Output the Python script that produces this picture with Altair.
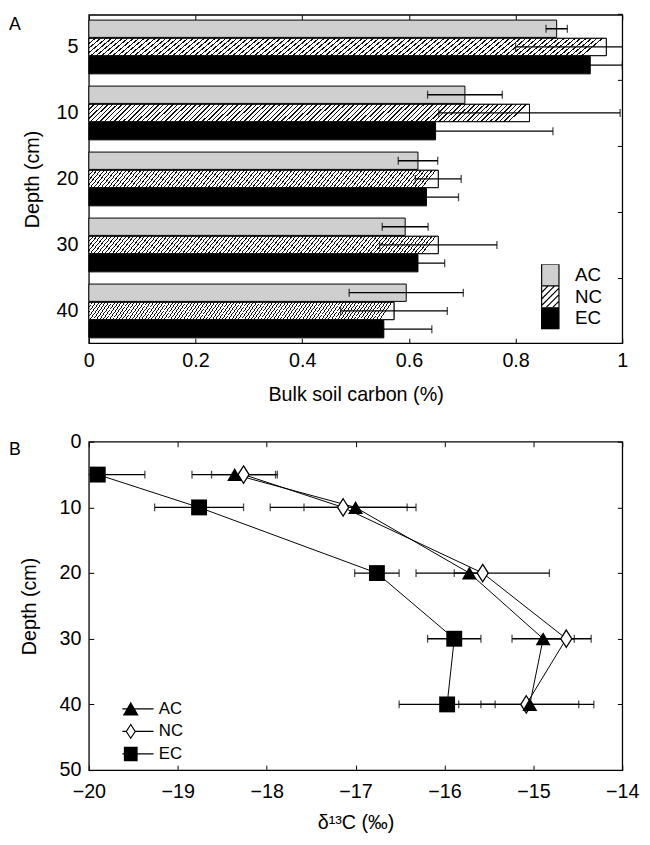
import altair as alt
import pandas as pd

# ---------------- data ----------------
depths = ["5", "10", "20", "30", "40"]
treatments = ["AC", "NC", "EC"]

# Panel A: bulk soil carbon (%)
ac_carbon = [0.877, 0.705, 0.617, 0.593, 0.595]
ac_carbon_err = [0.020, 0.070, 0.037, 0.043, 0.107]
nc_carbon = [0.970, 0.826, 0.655, 0.655, 0.572]
nc_carbon_err = [0.170, 0.170, 0.043, 0.110, 0.100]
ec_carbon = [0.940, 0.650, 0.633, 0.617, 0.553]
ec_carbon_err = [0.060, 0.220, 0.060, 0.050, 0.090]

# Panel B: delta 13C (permil)
depth_cm = [5, 10, 20, 30, 40]
ac_d13c = [-18.36, -17.00, -15.72, -14.89, -15.04]
ac_d13c_err = [0.48, 0.58, 0.17, 0.35, 0.55]
nc_d13c = [-18.26, -17.14, -15.57, -14.63, -15.08]
nc_d13c_err = [0.36, 0.82, 0.75, 0.28, 0.76]
ec_d13c = [-19.90, -18.76, -16.76, -15.89, -15.97]
ec_d13c_err = [0.53, 0.50, 0.25, 0.30, 0.54]

x_ticks_a = [0, 0.2, 0.4, 0.6, 0.8, 1]
x_ticks_b = [-20, -19, -18, -17, -16, -15, -14]
y_ticks_b = [0, 10, 20, 30, 40, 50]

# ---------------- tables ----------------
rows_a = []
for t, vals, errs in [("AC", ac_carbon, ac_carbon_err),
                      ("NC", nc_carbon, nc_carbon_err),
                      ("EC", ec_carbon, ec_carbon_err)]:
    for d, v, e in zip(depths, vals, errs):
        rows_a.append({"depth": d, "treatment": t, "carbon": v, "lo": v - e, "hi": v + e})
df_a = pd.DataFrame(rows_a)

rows_b = []
for t, vals, errs in [("AC", ac_d13c, ac_d13c_err),
                      ("NC", nc_d13c, nc_d13c_err),
                      ("EC", ec_d13c, ec_d13c_err)]:
    for d, v, e in zip(depth_cm, vals, errs):
        rows_b.append({"depth": d, "treatment": t, "d13c": v, "lo": v - e, "hi": v + e})
df_b = pd.DataFrame(rows_b)

legend_a = pd.DataFrame({"lg_a": treatments})
legend_b = pd.DataFrame({"lg_b": treatments})

FONT = "Liberation Sans"
NARROW = "Liberation Sans Narrow, Liberation Sans"
WA, HA = 541, 333
WB, HB = 541, 333

# hatch pattern as a striped gradient
n_str = 95
stops = []
for i in range(n_str):
    a = i / n_str
    b = (i + 0.3) / n_str
    c = (i + 1) / n_str
    stops += [{"offset": a, "color": "#111111"}, {"offset": b, "color": "#111111"},
              {"offset": b, "color": "#ffffff"}, {"offset": c, "color": "#ffffff"}]
HATCH = {"gradient": "linear", "x1": 0, "y1": 0, "x2": 1, "y2": 0.04, "stops": stops}

RECT = "M-0.8,-1H0.8V1H-0.8Z"
RECT_HATCH = ("M-0.8,-1H0.8V1H-0.8Z M-0.8,-0.4L-0.2,-1 M-0.8,0.2L0.4,-1 M-0.8,0.8L0.8,-0.8 "
              "M-0.4,1L0.8,-0.2 M0.2,1L0.8,0.4")
# legend symbols for panel B, drawn as filled outlines (line + marker)
LN = "M-3.3,-0.09H3.3V0.09H-3.3Z "
TRI_L = LN + "M0,-1.05L1.15,0.95H-1.15Z"
DIA_L = ("M-3.3,-0.09H-0.7V0.09H-3.3Z M0.7,-0.09H3.3V0.09H0.7Z "
         "M0,-1.15L0.75,0L0,1.15L-0.75,0Z M0,-0.86L-0.55,0L0,0.86L0.55,0Z")
SQR_L = LN + "M-1,-1.05H1V1.05H-1Z"
DIA = "M0,-1.1L0.7,0L0,1.1L-0.7,0Z"


def inward(orient, labels=True, title=None, values=None, fmt=None, band0=False,
           label_pad=8, title_pad=10, ticks=True):
    kw = dict(orient=orient, offset=-5, tickSize=5, tickWidth=1, tickColor="black",
              domain=False, labels=labels, grid=False, title=title, ticks=ticks,
              labelPadding=label_pad if labels else 0, titlePadding=title_pad,
              labelFlush=False)
    if values is not None:
        kw["values"] = values
    if fmt is not None:
        kw["format"] = fmt
    if band0:
        kw["bandPosition"] = 0
        kw["tickOffset"] = -6
    return alt.Axis(**kw)


# ---------------- Panel A ----------------
xa_scale = alt.Scale(domain=[0, 1], nice=False)
ya_scale = alt.Scale(domain=depths, paddingInner=0.185, paddingOuter=0.08)
yoff_scale = alt.Scale(domain=treatments, paddingInner=0.05)


def xa(field, axis):
    return alt.X(field + ":Q", scale=xa_scale, axis=axis, title="Bulk soil carbon (%)")


def ya(axis):
    return alt.Y("depth:N", scale=ya_scale, sort=depths, axis=axis, title="Depth (cm)")


yoff = alt.YOffset("treatment:N", scale=yoff_scale, sort=treatments)

base_a = alt.Chart(df_a)

bars = base_a.transform_calculate(
    fc="datum.treatment == 'AC' ? '#cfcfcf' : (datum.treatment == 'NC' ? '#ffffff' : '#000000')"
).mark_bar(stroke="black", strokeWidth=1).encode(
    x=xa("carbon", inward("bottom", title="Bulk soil carbon (%)", values=x_ticks_a, fmt="~g",
                          label_pad=8, title_pad=14)),
    y=ya(inward("left", title="Depth (cm)", ticks=False, label_pad=16, title_pad=14)),
    yOffset=yoff,
    fill=alt.Fill("fc:N", scale=None),
)

hatch = base_a.transform_filter(alt.datum.treatment == "NC").mark_bar(
    fill=HATCH, stroke="black", strokeWidth=1
).encode(x=xa("carbon", None), y=ya(None), yOffset=yoff)

err_a = base_a.mark_rule(color="black", strokeWidth=1.3, clip=True).encode(
    x=xa("lo", inward("top", labels=False, values=x_ticks_a)),
    x2="hi:Q",
    y=ya(inward("right", labels=False, band0=True)),
    yOffset=yoff,
)
cap_lo_a = base_a.mark_tick(color="black", size=8, thickness=1.3, clip=True).encode(
    x=xa("lo", None), y=ya(None), yOffset=yoff)
cap_hi_a = base_a.mark_tick(color="black", size=8, thickness=1.3, clip=True).encode(
    x=xa("hi", None), y=ya(None), yOffset=yoff)

leg_a_kw = dict(orient="none", legendX=456, legendY=253, title=None,
                symbolSize=484, symbolStrokeColor="black", symbolStrokeWidth=1.2,
                symbolOpacity=1, labelFontSize=19, labelFont=NARROW, labelOffset=13,
                rowPadding=0, padding=0, clipHeight=22)
leg_a = alt.Chart(legend_a).mark_point(opacity=0, filled=True, stroke="black", strokeWidth=1.2).encode(
    x=alt.value(0), y=alt.value(0),
    shape=alt.Shape("lg_a:N", scale=alt.Scale(domain=treatments, range=[RECT, RECT_HATCH, RECT]),
                    legend=alt.Legend(**leg_a_kw)),
    fill=alt.Fill("lg_a:N", scale=alt.Scale(domain=treatments, range=["#cfcfcf", "#ffffff", "#000000"]),
                  legend=alt.Legend(**leg_a_kw)),
)

lab_a = alt.Chart(pd.DataFrame({"t": ["A"]})).mark_text(
    align="left", baseline="top", fontSize=18, font=FONT, color="black"
).encode(x=alt.value(-81), y=alt.value(1), text="t:N")

panel_a = alt.layer(bars, hatch, err_a, cap_lo_a, cap_hi_a, leg_a, lab_a).resolve_axis(
    x="independent", y="independent"
).properties(width=WA, height=HA)

# ---------------- Panel B ----------------
xb_scale = alt.Scale(domain=[-20, -14], nice=False)
yb_scale = alt.Scale(domain=[0, 50], reverse=True, nice=False)
XB_TITLE = "δ¹³C (‰)"


def xb(field, axis):
    return alt.X(field + ":Q", scale=xb_scale, axis=axis, title=XB_TITLE)


def yb(axis):
    return alt.Y("depth:Q", scale=yb_scale, axis=axis, title="Depth (cm)")


base_b = alt.Chart(df_b)

lines = base_b.mark_line(color="black", strokeWidth=1).encode(
    x=xb("d13c", inward("bottom", title=XB_TITLE, values=x_ticks_b, fmt="d",
                        label_pad=12, title_pad=11)),
    y=yb(inward("left", title="Depth (cm)", values=y_ticks_b, label_pad=8, title_pad=20)),
    detail="treatment:N",
    order=alt.Order("depth:Q"),
)
err_b = base_b.mark_rule(color="black", strokeWidth=1.3, clip=True).encode(
    x=xb("lo", inward("top", labels=False, values=x_ticks_b)),
    x2="hi:Q",
    y=yb(inward("right", labels=False, values=y_ticks_b)),
)
cap_lo_b = base_b.mark_tick(color="black", orient="vertical", size=8, thickness=1.3, clip=True).encode(
    x=xb("lo", None), y=yb(None))
cap_hi_b = base_b.mark_tick(color="black", orient="vertical", size=8, thickness=1.3, clip=True).encode(
    x=xb("hi", None), y=yb(None))

pts_nc = base_b.transform_filter(alt.datum.treatment == "NC").mark_point(
    shape=DIA, filled=True, fill="white", stroke="black", strokeWidth=1.3, size=256, opacity=1
).encode(x=xb("d13c", None), y=yb(None))
pts_ac = base_b.transform_filter(alt.datum.treatment == "AC").mark_point(
    shape="triangle-up", filled=True, color="black", size=230, opacity=1
).encode(x=xb("d13c", None), y=yb(None))
pts_ec = base_b.transform_filter(alt.datum.treatment == "EC").mark_point(
    shape="square", filled=True, color="black", size=260, opacity=1
).encode(x=xb("d13c", None), y=yb(None))

leg_b = alt.Chart(legend_b).mark_point(opacity=0, filled=True, color="black").encode(
    x=alt.value(0), y=alt.value(0),
    shape=alt.Shape("lg_b:N", scale=alt.Scale(domain=treatments, range=[TRI_L, DIA_L, SQR_L]),
                    legend=alt.Legend(orient="none", legendX=34, legendY=260, title=None,
                                      symbolSize=196, symbolFillColor="black",
                                      symbolStrokeWidth=0, symbolOpacity=1,
                                      labelFontSize=17, labelFont=NARROW, labelOffset=20,
                                      rowPadding=0.8, padding=0, clipHeight=22)),
)

lab_b = alt.Chart(pd.DataFrame({"t": ["B"]})).mark_text(
    align="left", baseline="top", fontSize=18, font=FONT, color="black"
).encode(x=alt.value(-81), y=alt.value(-1), text="t:N")

panel_b = alt.layer(lines, err_b, cap_lo_b, cap_hi_b, pts_nc, pts_ac, pts_ec, leg_b, lab_b).resolve_axis(
    x="independent", y="independent"
).properties(width=WB, height=HB)

chart = alt.vconcat(panel_a, panel_b, spacing=26).resolve_scale(
    shape="independent", fill="independent"
).properties(
    padding={"left": 0, "top": -3, "right": 2, "bottom": 0}
).configure_view(
    stroke="black", strokeWidth=1.3
).configure_axis(
    labelFont=FONT, titleFont=FONT, labelFontSize=20, titleFontSize=20,
    labelColor="black", titleColor="black", titleFontWeight="normal",
).configure_legend(
    labelColor="black"
)

chart.save("out.html", embed_options={"renderer": "svg", "actions": False})
